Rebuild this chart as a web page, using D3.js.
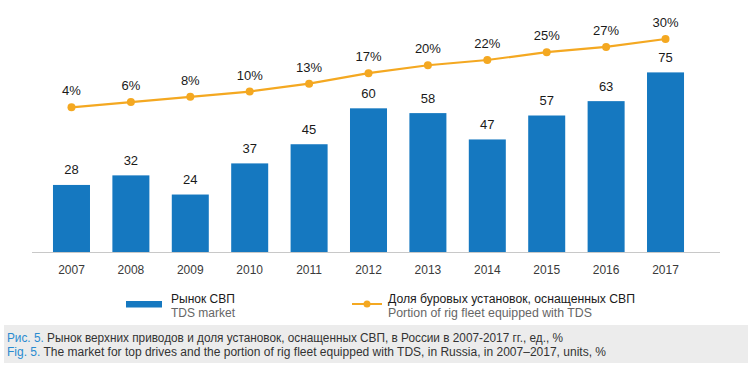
<!DOCTYPE html>
<html>
<head>
<meta charset="utf-8">
<script src="https://cdn.jsdelivr.net/npm/d3@7/dist/d3.min.js"></script>
<style>
  html, body { margin: 0; padding: 0; background: #fff; }
  svg { display: block; font-family: "Liberation Sans", Arial, Helvetica, sans-serif; }
</style>
</head>
<body>
<svg id="chart" width="750" height="368"></svg>
<script>
const years = ["2007","2008","2009","2010","2011","2012","2013","2014","2015","2016","2017"];
const marketValues = [28, 32, 24, 37, 45, 60, 58, 47, 57, 63, 75];
const fleetShare = [4, 6, 8, 10, 13, 17, 20, 22, 25, 27, 30];
const legendLabels = [
  ["Рынок СВП", "TDS market"],
  ["Доля буровых установок, оснащенных СВП", "Portion of rig fleet equipped with TDS"]
];
const captionRu = ["Рис. 5.", " Рынок верхних приводов и доля установок, оснащенных СВП, в России в 2007-2017 гг., ед., %"];
const captionEn = ["Fig. 5.", " The market for top drives and the portion of rig fleet equipped with TDS, in Russia, in 2007–2017, units, %"];

const BLUE = "#1578c0";
const ORANGE = "#f4a821";

const svg = d3.select("#chart");

const x = d3.scaleBand()
  .domain(years)
  .range([41.1, 695.9])
  .paddingInner(0.377)
  .paddingOuter(0.2);

const y = d3.scaleLinear().domain([0, 75]).range([252, 72.4]);
const y2 = d3.scaleLinear().domain([0, 30]).range([117.8, 39.0]);

// baseline axis
const xAxis = d3.axisBottom(x).tickSize(0).tickPadding(0);
const axisG = svg.append("g").attr("transform", "translate(0,252)").call(xAxis);
axisG.select(".domain").remove();
axisG.selectAll(".tick text")
  .attr("y", 0)
  .attr("dy", 21.5)
  .attr("font-size", 12)
  .attr("fill", "#3a3a3a")
  .attr("font-family", "'Liberation Sans', Arial, sans-serif");

// bars
svg.append("g").selectAll("rect")
  .data(marketValues)
  .join("rect")
  .attr("x", (d, i) => x(years[i]))
  .attr("y", d => y(d))
  .attr("width", x.bandwidth())
  .attr("height", d => y(0) - y(d))
  .attr("fill", BLUE);

svg.append("line")
  .attr("x1", 32).attr("x2", 720)
  .attr("y1", 252.5).attr("y2", 252.5)
  .attr("stroke", "#c8c8c8").attr("stroke-width", 1);

// bar labels
svg.append("g").selectAll("text")
  .data(marketValues)
  .join("text")
  .attr("x", (d, i) => x(years[i]) + x.bandwidth() / 2)
  .attr("y", d => y(d) - 10.5)
  .attr("text-anchor", "middle")
  .attr("font-size", 13)
  .attr("fill", "#1a1a1a")
  .text(d => d);

// line
const line = d3.line()
  .x((d, i) => x(years[i]) + x.bandwidth() / 2)
  .y(d => y2(d));

svg.append("path")
  .datum(fleetShare)
  .attr("d", line)
  .attr("fill", "none")
  .attr("stroke", ORANGE)
  .attr("stroke-width", 2.2);

svg.append("g").selectAll("circle")
  .data(fleetShare)
  .join("circle")
  .attr("cx", (d, i) => x(years[i]) + x.bandwidth() / 2)
  .attr("cy", d => y2(d))
  .attr("r", 4)
  .attr("fill", ORANGE);

svg.append("g").selectAll("text")
  .data(fleetShare)
  .join("text")
  .attr("x", (d, i) => x(years[i]) + x.bandwidth() / 2)
  .attr("y", d => y2(d) - 12)
  .attr("text-anchor", "middle")
  .attr("font-size", 13)
  .attr("fill", "#1a1a1a")
  .text(d => d + "%");

// legend
const lg = svg.append("g");
lg.append("rect").attr("x", 126).attr("y", 301).attr("width", 36).attr("height", 6.5).attr("fill", BLUE);
lg.append("text").attr("x", 171).attr("y", 303.3).attr("font-size", 12).attr("fill", "#1a1a1a").text(legendLabels[0][0]);
lg.append("text").attr("x", 171).attr("y", 316.5).attr("font-size", 12).attr("fill", "#666").text(legendLabels[0][1]);

lg.append("line").attr("x1", 352).attr("x2", 382).attr("y1", 304).attr("y2", 304).attr("stroke", ORANGE).attr("stroke-width", 2);
lg.append("circle").attr("cx", 367).attr("cy", 304).attr("r", 3.5).attr("fill", ORANGE);
lg.append("text").attr("x", 388).attr("y", 303.3).attr("font-size", 12.5).attr("fill", "#1a1a1a")
  .attr("textLength", 247).attr("lengthAdjust", "spacingAndGlyphs").text(legendLabels[1][0]);
lg.append("text").attr("x", 388).attr("y", 316.5).attr("font-size", 12).attr("fill", "#666")
  .attr("textLength", 204).attr("lengthAdjust", "spacingAndGlyphs").text(legendLabels[1][1]);

// caption box
svg.append("rect").attr("x", 4).attr("y", 325).attr("width", 744).attr("height", 38).attr("fill", "#ececec");
const c1 = svg.append("text").attr("x", 7).attr("y", 342.3).attr("font-size", 12)
  .attr("textLength", 556).attr("lengthAdjust", "spacingAndGlyphs");
c1.append("tspan").attr("fill", "#2a8bd0").text(captionRu[0]);
c1.append("tspan").attr("fill", "#333").text(captionRu[1]);
const c2 = svg.append("text").attr("x", 7).attr("y", 356.3).attr("font-size", 12)
  .attr("textLength", 599).attr("lengthAdjust", "spacingAndGlyphs");
c2.append("tspan").attr("fill", "#2a8bd0").text(captionEn[0]);
c2.append("tspan").attr("fill", "#333").text(captionEn[1]);
</script>
</body>
</html>
